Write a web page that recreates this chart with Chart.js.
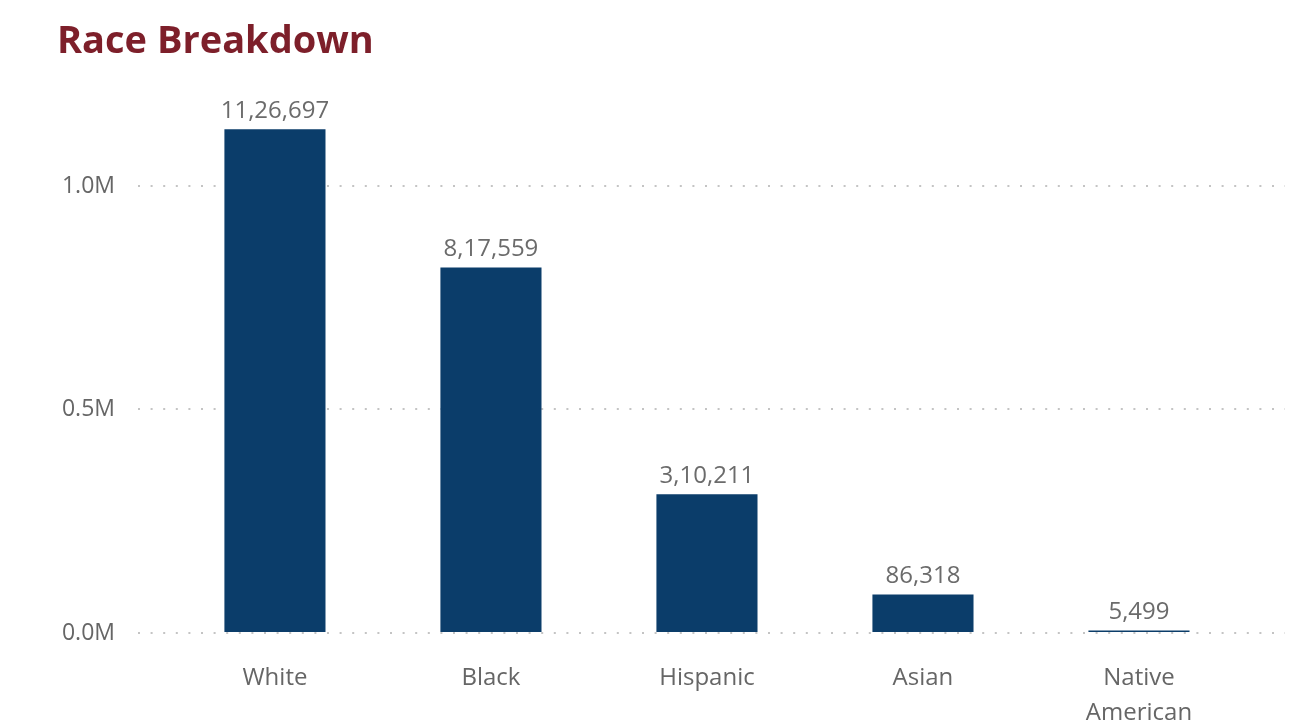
<!DOCTYPE html>
<html>
<head>
<meta charset="utf-8">
<title>Race Breakdown</title>
<script src="https://cdn.jsdelivr.net/npm/chart.js@4.4.1/dist/chart.umd.min.js"></script>
<style>
    body { margin: 0; background: #fff; }
    #wrap { width: 1309px; height: 724px; }
</style>
</head>
<body>
<div id="wrap"><canvas id="myChart" width="1309" height="724"></canvas></div>
<script>
const categories = [['White'], ['Black'], ['Hispanic'], ['Asian'], ['Native', 'American']];
const population = [1126697, 817559, 310211, 86318, 5499];
const yTicks = [0, 500000, 1000000];

// indian style grouping: 11,26,697
function formatIndian(n) {
    let s = String(Math.round(n));
    if (s.length <= 3) return s;
    let last = s.slice(-3);
    let rest = s.slice(0, -3);
    rest = rest.replace(/\B(?=(\d{2})+(?!\d))/g, ',');
    return rest + ',' + last;
}

const valueLabels = {
    id: 'valueLabels',
    afterDatasetsDraw(chart) {
        let ctx = chart.ctx;
        let meta = chart.getDatasetMeta(0);
        ctx.save();
        ctx.font = '24px "Open Sans"';
        ctx.fillStyle = '#6b6b6b';
        ctx.textAlign = 'center';
        ctx.textBaseline = 'bottom';
        meta.data.forEach((bar, i) => {
            ctx.fillText(formatIndian(population[i]), bar.x, bar.y - 6);
        });
        ctx.restore();
    }
};

let points = population.map((v, i) => ({ x: i, y: v }));

var ctx = document.getElementById('myChart').getContext('2d');
var myChart = new Chart(ctx, {
    type: 'bar',
    data: {
        datasets: [
            {
                label: 'Population',
                data: points,
                backgroundColor: '#0b3d6a',
                borderWidth: 0,
                categoryPercentage: 1,
                barPercentage: 0.468
            }
        ]
    },
    options: {
        responsive: false,
        animation: false,
        layout: { padding: { left: 57, right: 24, top: 0, bottom: 0 } },
        plugins: {
            legend: { display: false },
            tooltip: { enabled: false },
            title: {
                display: true,
                text: 'Race Breakdown',
                align: 'start',
                color: '#7d1f2a',
                font: { family: '"Open Sans"', size: 38, weight: 'bold' },
                padding: { top: 19, bottom: 32 }
            }
        },
        scales: {
            x: {
                type: 'linear',
                offset: false,
                min: -0.634,
                max: 4.676,
                grid: { display: false },
                border: { display: false },
                afterFit: axis => { axis.height = 91; },
                ticks: {
                    stepSize: 1,
                    includeBounds: false,
                    autoSkip: false,
                    maxRotation: 0,
                    padding: 20,
                    color: '#666666',
                    font: { family: '"Open Sans"', size: 24, lineHeight: 1.45 },
                    callback: v => categories[v] || ''
                }
            },
            y: {
                min: 0,
                max: 1200000,
                grid: { color: '#c4c4c4', lineWidth: 2, drawTicks: false },
                border: { display: false, dash: [2, 10.6] },
                afterFit: axis => { axis.width = 81; },
                afterBuildTicks: axis => { axis.ticks = yTicks.map(v => ({ value: v })); },
                ticks: {
                    padding: 23,
                    color: '#666666',
                    font: { family: '"Open Sans"', size: 23 },
                    callback: v => (v / 1000000).toFixed(1) + 'M'
                }
            }
        }
    },
    plugins: [valueLabels]
});
</script>
</body>
</html>
